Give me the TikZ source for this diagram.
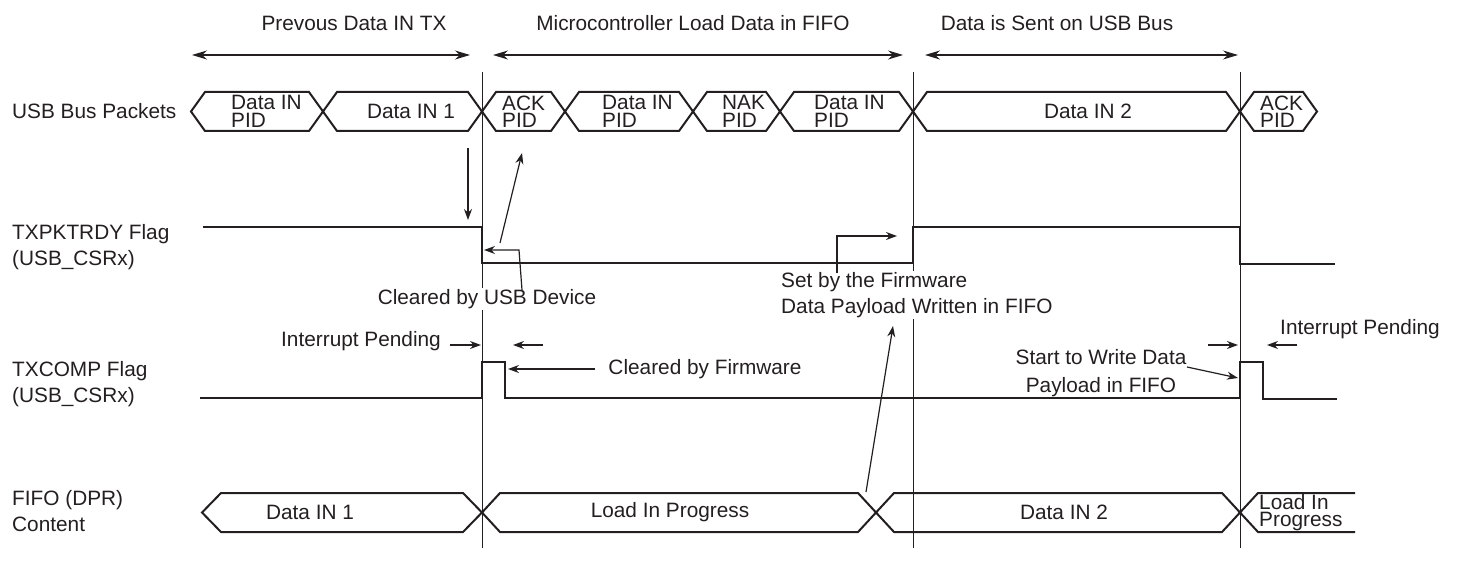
\documentclass[tikz,border=0pt]{standalone}
\usepackage{fontspec}
\setmainfont{Liberation Sans}
\usetikzlibrary{arrows.meta}
\definecolor{ink}{HTML}{231F20}
\newcommand{\hexseg}[5]{\draw[busline] (#1,#3) -- ({#1+#4},{#3-#5}) -- ({#2-#4},{#3-#5}) -- (#2,#3) -- ({#2-#4},{#3+#5}) -- ({#1+#4},{#3+#5}) -- cycle;}
\begin{document}
\begin{tikzpicture}[x=1pt,y=-1pt,
  lbl/.style={font=\fontsize{20.8}{26}\selectfont, inner sep=0pt, text=ink},
  pid/.style={font=\fontsize{20.8}{17.5}\selectfont, inner sep=0pt, text=ink, align=left, anchor=west},
  note/.style={font=\fontsize{20.8}{26}\selectfont, inner sep=1.5pt, text=ink, fill=white},
  sig/.style={draw=ink, line width=2.4pt, line join=miter},
  busline/.style={draw=ink, line width=2pt, line join=miter},
  vline/.style={draw=ink, line width=1pt},
  arr/.style={draw=ink, line width=1.2pt, -{Stealth[length=11pt,width=8pt]}},
  dimarrow/.style={draw=ink, line width=1.2pt, {Stealth[length=15pt,width=9pt]}-{Stealth[length=15pt,width=9pt]}}]
\useasboundingbox (0,0) rectangle (1458,575);

% headers
\node[lbl] (h1) at (354,23) {Prevous Data IN TX};
\node[lbl] (h2) at (693,23) {Microcontroller Load Data in FIFO};
\node[lbl] (h3) at (1057,23) {Data is Sent on USB Bus};
\coordinate (a1l) at (192,55); \coordinate (a1r) at (470,55);
\coordinate (a2l) at (493,55); \coordinate (a2r) at (903,55);
\coordinate (a3l) at (925,55); \coordinate (a3r) at (1238,55);
\draw[dimarrow] (a1l) -- (a1r);
\draw[dimarrow] (a2l) -- (a2r);
\draw[dimarrow] (a3l) -- (a3r);

% left labels
\node[lbl, anchor=west] (l1) at (12,111.5) {USB Bus Packets};
\node[lbl, anchor=west, align=left] (l2) at (12,247) {TXPKTRDY Flag\\(USB\_CSRx)};
\node[lbl, anchor=west, align=left] (l3) at (12,384) {TXCOMP Flag\\(USB\_CSRx)};
\node[lbl, anchor=west, align=left] (l4) at (12,511) {FIFO (DPR)\\Content};

% vertical time markers
\coordinate (v1t) at (482,72); \coordinate (v1b) at (482,548);
\coordinate (v2t) at (913,72); \coordinate (v2b) at (913,548);
\coordinate (v3t) at (1240,72); \coordinate (v3b) at (1240,548);
\draw[vline] (v1t) -- (v1b);
\draw[vline] (v2t) -- (v2b);
\draw[vline] (v3t) -- (v3b);

% USB bus packets
\hexseg{191}{323}{111.5}{14}{19.5}
\hexseg{323}{482}{111.5}{14}{19.5}
\hexseg{482}{565}{111.5}{14}{19.5}
\hexseg{565}{693}{111.5}{14}{19.5}
\hexseg{693}{780}{111.5}{14}{19.5}
\hexseg{780}{913}{111.5}{14}{19.5}
\hexseg{913}{1240}{111.5}{14}{19.5}
\hexseg{1240}{1317}{111.5}{14}{19.5}
\node[pid] (p1) at (231,111.5) {Data IN\\PID};
\node[lbl] (p2) at (411,111.5) {Data IN 1};
\node[pid] (p3) at (502,111.5) {ACK\\PID};
\node[pid] (p4) at (602,111.5) {Data IN\\PID};
\node[pid] (p5) at (722,111.5) {NAK\\PID};
\node[pid] (p6) at (814,111.5) {Data IN\\PID};
\node[lbl] (p7) at (1088,111.5) {Data IN 2};
\node[pid] (p8) at (1260,111.5) {ACK\\PID};

% TXPKTRDY
\draw[sig] (203,227) -- (482,227) -- (482,263) -- (913,263) -- (913,227) -- (1240,227) -- (1240,264) -- (1335,264);

% TXCOMP
\draw[sig] (200,398) -- (482,398) -- (482,362) -- (505,362) -- (505,398) -- (1240,398) -- (1240,362) -- (1263,362) -- (1263,399) -- (1337,399);

% FIFO
\hexseg{202}{482}{512.5}{19}{19.5}
\hexseg{482}{876}{512.5}{18}{19.5}
\hexseg{876}{1240}{512.5}{18}{19.5}
\draw[busline] (1355,493) -- (1258,493) -- (1240,512.5) -- (1258,532) -- (1355,532);
\node[lbl] (f1) at (310,512.5) {Data IN 1};
\node[lbl] (f2) at (670,512.5) {Load In Progress};
\node[lbl] (f3) at (1064,512.5) {Data IN 2};
\node[pid] (f4) at (1259,512.5) {Load In\\Progress};

% annotations
\node[note] (c1) at (487,299) {Cleared by USB Device};
\node[note, anchor=west, align=left, inner sep=1pt] (s1) at (780,295) {Set by the Firmware\\Data Payload Written in FIFO};
\node[note, fill=none] (ip1) at (361,341) {Interrupt Pending};
\node[note, fill=none] (cf) at (705,369) {Cleared by Firmware};
\node[note, fill=none] (ip2) at (1360,329) {Interrupt Pending};
\node[note, fill=none, align=center, font=\fontsize{20.8}{28}\selectfont] (sw) at (1101,373) {Start to Write Data\\Payload in FIFO};

\coordinate (d1s) at (468,148); \coordinate (d1e) at (468,220);
\draw[arr] (d1s) -- (d1e);
\coordinate (u1s) at (500,243); \coordinate (u1e) at (522,153);
\draw[arr] (u1s) -- (u1e);
\coordinate (c1a) at (522,290); \coordinate (c1b) at (519,250); \coordinate (c1e) at (484,250);
\draw[arr] (c1a) -- (c1b) -- (c1e);
\coordinate (s1a) at (837,273); \coordinate (s1b) at (837,236); \coordinate (s1e) at (897,236);
\draw[arr] (s1a) -- (s1b) -- (s1e);
\coordinate (fa) at (866,492); \coordinate (fe) at (893,326);
\draw[arr] (fa) -- (fe);
\coordinate (i1a) at (450,345); \coordinate (i1e) at (481,345);
\draw[arr] (i1a) -- (i1e);
\coordinate (i2a) at (543,345); \coordinate (i2e) at (513,345);
\draw[arr] (i2a) -- (i2e);
\coordinate (cfa) at (595,369); \coordinate (cfe) at (508,369);
\draw[arr] (cfa) -- (cfe);
\coordinate (i3a) at (1208,345); \coordinate (i3e) at (1238,345);
\draw[arr] (i3a) -- (i3e);
\coordinate (i4a) at (1297,345); \coordinate (i4e) at (1267,345);
\draw[arr] (i4a) -- (i4e);
\coordinate (swa) at (1187,367); \coordinate (swe) at (1238,378);
\draw[arr] (swa) -- (swe);
\end{tikzpicture}
\end{document}
